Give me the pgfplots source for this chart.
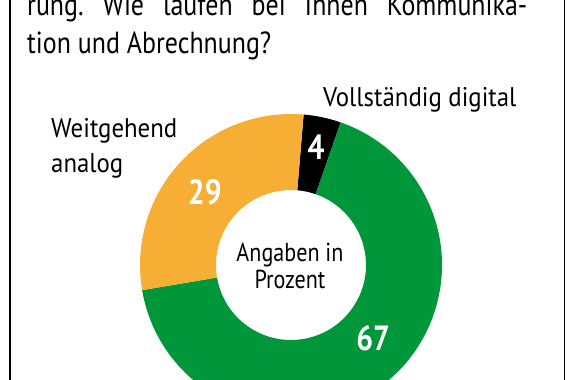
\documentclass[border=0pt]{standalone}
\usepackage{pgfplots}
\pgfplotsset{compat=1.18}
\usepackage{pgfplotstable}
\usepackage{fontspec}
\setmainfont{PT Sans}
\newfontfamily\tfont[FakeStretch=0.85]{PT Sans}
\newfontfamily\lfont[FakeStretch=0.92]{PT Sans}
\definecolor{cOrange}{RGB}{246,175,52}
\definecolor{cGreen}{RGB}{0,150,58}
\definecolor{cBlack}{RGB}{0,0,0}
\pgfplotstableread{
label value color
digital 4 cBlack
hybrid 67 cGreen
analog 29 cOrange
}\piedata
\frenchspacing
\begin{document}
\begin{tikzpicture}
\begin{axis}[
  scale only axis, width=576pt, height=380pt,
  xmin=0, xmax=576, ymin=0, ymax=380,
  axis lines=none, clip=true,
]
\def\cx{291}\def\cy{115}\def\R{151}\def\r{75}
\pgfmathsetmacro{\startang}{85.2}
\pgfplotstablegetelem{0}{value}\of\piedata \let\va\pgfplotsretval
\pgfplotstablegetelem{1}{value}\of\piedata \let\vb\pgfplotsretval
\pgfplotstablegetelem{2}{value}\of\piedata \let\vc\pgfplotsretval
\pgfmathsetmacro{\aA}{\startang}
\pgfmathsetmacro{\aB}{\aA-3.6*\va}
\pgfmathsetmacro{\aC}{\aB-3.6*\vb}
\pgfmathsetmacro{\aD}{\aC-3.6*\vc}
% sectors
\fill[cBlack] (axis cs:\cx,\cy) ++(\aA:\R pt) arc[start angle=\aA,end angle=\aB,radius=\R pt] -- ([shift={(\aB:\r pt)}]axis cs:\cx,\cy) arc[start angle=\aB,end angle=\aA,radius=\r pt] -- cycle;
\fill[cGreen] (axis cs:\cx,\cy) ++(\aB:\R pt) arc[start angle=\aB,end angle=\aC,radius=\R pt] -- ([shift={(\aC:\r pt)}]axis cs:\cx,\cy) arc[start angle=\aC,end angle=\aB,radius=\r pt] -- cycle;
\fill[cOrange] (axis cs:\cx,\cy) ++(\aC:\R pt) arc[start angle=\aC,end angle=\aD,radius=\R pt] -- ([shift={(\aD:\r pt)}]axis cs:\cx,\cy) arc[start angle=\aD,end angle=\aC,radius=\r pt] -- cycle;
% value labels
\node[text=white,font=\tfont\bfseries\fontsize{35}{35}\selectfont] at ([shift={(78:120pt)}]axis cs:\cx,\cy) {\va};
\node[text=white,font=\tfont\bfseries\fontsize{35}{35}\selectfont] at ([shift={(-41.7:110pt)}]axis cs:\cx,\cy) {\vb};
\node[text=white,font=\tfont\bfseries\fontsize{35}{35}\selectfont] at ([shift={(139.7:113pt)}]axis cs:\cx,\cy) {\vc};
% center text
\node[anchor=base,font=\tfont\fontsize{26}{30}\selectfont,inner sep=0pt] at (axis cs:290,118) {Angaben in};
\node[anchor=base,font=\tfont\fontsize{26}{30}\selectfont,inner sep=0pt] at (axis cs:290,91) {Prozent};
% category labels
\node[anchor=base west,font=\lfont\fontsize{27}{34}\selectfont,inner sep=0pt] at (axis cs:51,242) {Weitgehend};
\node[anchor=base west,font=\lfont\fontsize{27}{34}\selectfont,inner sep=0pt] at (axis cs:51,207) {analog};
\node[anchor=base west,font=\lfont\fontsize{27}{34}\selectfont,inner sep=0pt] at (axis cs:323,273) {Vollständig digital};
% title (cropped)
\node[anchor=base west,font=\tfont\fontsize{30.5}{39}\selectfont,inner sep=0pt] at (axis cs:27,364) {\makebox[500pt][s]{rung. Wie laufen bei Ihnen Kommunika-}};
\node[anchor=base west,font=\tfont\fontsize{30.5}{39}\selectfont,inner sep=0pt] at (axis cs:27,326) {tion und Abrechnung?};
% frame
\draw[line width=1.3pt] (axis cs:10,-5) -- (axis cs:10,400);
\draw[line width=1.3pt] (axis cs:564.5,-5) -- (axis cs:564.5,400);
\end{axis}
\pgfresetboundingbox
\path[use as bounding box] (current axis.south west) rectangle (current axis.north east);
\end{tikzpicture}
\end{document}
